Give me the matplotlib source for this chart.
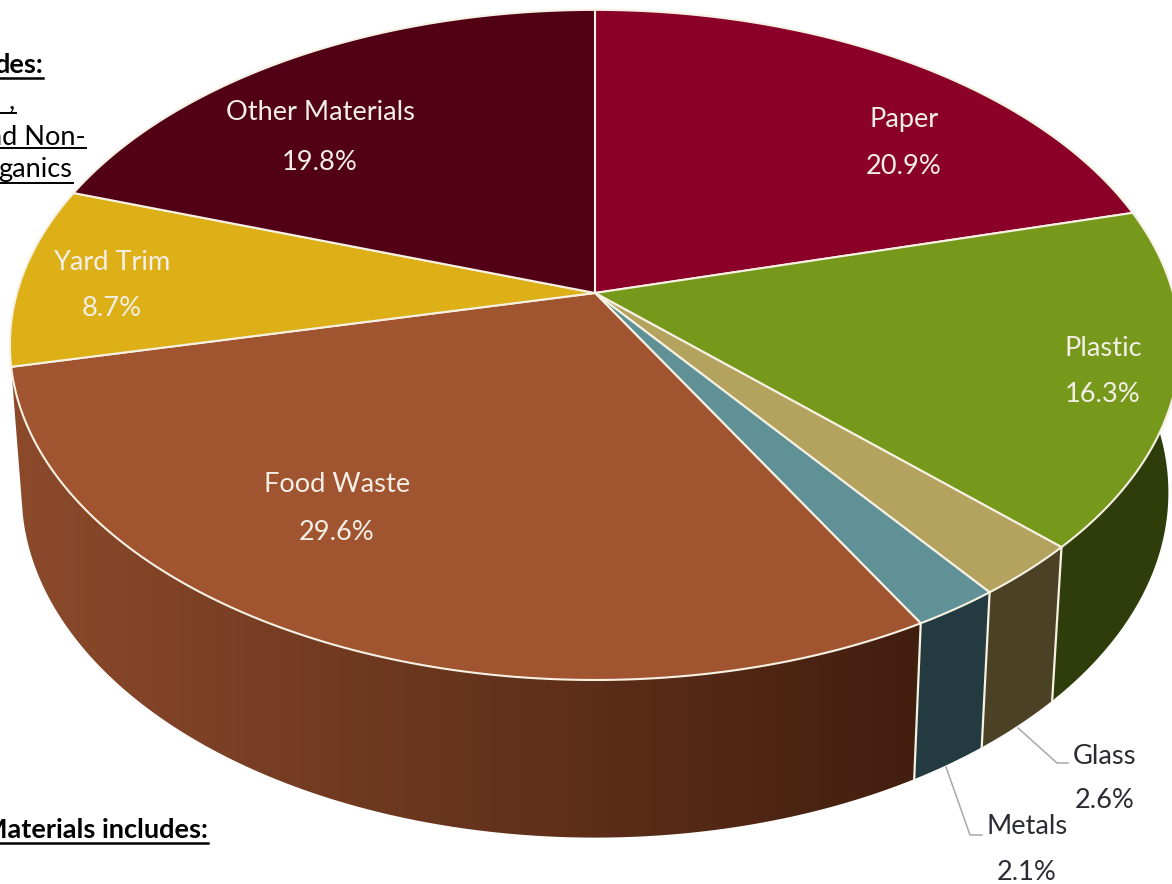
import numpy as np
import matplotlib
matplotlib.use("Agg")
import matplotlib.pyplot as plt
from matplotlib.patches import Polygon
from matplotlib.colors import to_rgb

categories = ['Paper', 'Plastic', 'Glass', 'Metals', 'Food Waste', 'Yard Trim', 'Other Materials']
values = [20.9, 16.3, 2.6, 2.1, 29.6, 8.7, 19.8]
top_colors = ['#8a0029', '#76981b', '#b4a35f', '#5f9196', '#a05430', '#dcb016', '#520016']
side_left = ['#5a001a', '#2f3d0a', '#4b4226', '#233a40', '#8c4a2b', '#8c7010', '#30000c']
side_right = ['#5a001a', '#2f3d0a', '#4b4226', '#233a40', '#421e0f', '#8c7010', '#30000c']

# pie is drawn in pixel coords, so it can use the perspective of the original
W, H = 1172, 884
cx, cy = 595, 293
a, b, k = 578, 327, 0.155
shrink_x, shrink_y, depth = 0.98, 1.03, 146
line_col = '#f6f1e2'
label_col = '#f3efe6'
label_pos = [(904, 120, 167), (1103, 349, 395), (1105, 756, 801), (1027, 827, 872),
             (337, 485, 532), (112, 263, 309), (320, 112, 162)]
label_dark = ['Glass', 'Metals']


def rim(theta):
    w = 1 + k * np.cos(theta)
    return cx + a * np.sin(theta) / w, cy - b * np.cos(theta) / w


def low_rim(theta):
    x, y = rim(theta)
    return cx + shrink_x * (x - cx), cy + depth + shrink_y * (y - cy)


plt.rcParams['font.family'] = ['Lato', 'DejaVu Sans']
fig = plt.figure(figsize=(W / 100, H / 100), dpi=100)
ax = fig.add_axes([0, 0, 1, 1])

edges = np.radians(np.concatenate([[0], np.cumsum(values)]) / sum(values) * 360)

# side wall, gradient picture clipped to the wall shape
for i in range(len(values)):
    t0, t1 = edges[i], edges[i + 1]
    if t1 < np.pi / 2 or t0 > 1.4 * np.pi:
        continue
    ts = np.linspace(t0, t1, 200)
    xt, yt = rim(ts)
    xb, yb = low_rim(ts)
    pts = np.column_stack([np.r_[xt, xb[::-1]], np.r_[yt, yb[::-1]]])
    if side_left[i] == side_right[i]:
        ax.add_patch(Polygon(pts, closed=True, fc=side_left[i], ec='none', zorder=2))
    else:
        x0, x1 = pts[:, 0].min(), pts[:, 0].max()
        grad = np.linspace(to_rgb(side_left[i]), to_rgb(side_right[i]), 256)[np.newaxis, :, :]
        im = ax.imshow(grad, extent=[x0, x1, pts[:, 1].max(), pts[:, 1].min()], aspect='auto', zorder=2)
        clip = Polygon(pts, closed=True, transform=ax.transData)
        im.set_clip_path(clip)

ax.set_xlim(0, W)
ax.set_ylim(H, 0)
ax.axis('off')

# vertical white lines between the wall pieces
for t in edges[2:5]:
    xt, yt = rim(t)
    xb, yb = low_rim(t)
    ax.plot([xt, xb], [yt, yb], color=line_col, lw=1.6, zorder=3)

# top face
for i in range(len(values)):
    ts = np.linspace(edges[i], edges[i + 1], 120)
    x, y = rim(ts)
    pts = np.column_stack([np.r_[cx, x], np.r_[cy, y]])
    ax.add_patch(Polygon(pts, closed=True, fc=top_colors[i], ec=line_col, lw=1.5,
                         joinstyle='round', zorder=4))

# labels
for i, name in enumerate(categories):
    col = '#2b2b33' if name in label_dark else label_col
    x, y1, y2 = label_pos[i]
    ax.text(x, y1, name, color=col, fontsize=19.6, ha='center', va='center', zorder=6)
    ax.text(x, y2, '%.1f%%' % values[i], color=col, fontsize=19.6, ha='center', va='center', zorder=6)

# leader lines for the two small slices
ax.plot([1018, 1057, 1068], [728, 763, 763], color='#a8a8a8', lw=1.1, zorder=1)
ax.plot([946, 970, 982], [767, 835, 835], color='#a8a8a8', lw=1.1, zorder=1)

# notes cut by the left edge of the picture
ax.text(43, 73, 'des:', color='black', fontsize=19.5, fontweight='bold', ha='right', va='baseline', zorder=1)
ax.text(15, 108, ',', color='black', fontsize=19.5, ha='right', va='baseline', zorder=1)
ax.text(86, 145, 'nd Non-', color='black', fontsize=19.5, ha='right', va='baseline', zorder=1)
ax.text(72, 177, 'ganics', color='black', fontsize=19.5, ha='right', va='baseline', zorder=1)
ax.text(208, 838, 'Materials includes:', color='black', fontsize=19.5, fontweight='bold', ha='right', va='baseline')
ax.plot([0, 43], [78, 78], color='black', lw=1.8, zorder=1)
ax.plot([0, 16], [113, 113], color='black', lw=1.4, zorder=1)
ax.plot([0, 86], [148, 148], color='black', lw=1.4, zorder=1)
ax.plot([0, 73], [183, 183], color='black', lw=1.4, zorder=1)
ax.plot([0, 208], [843, 843], color='black', lw=1.8, zorder=1)

fig.savefig('out.png', dpi=100)
